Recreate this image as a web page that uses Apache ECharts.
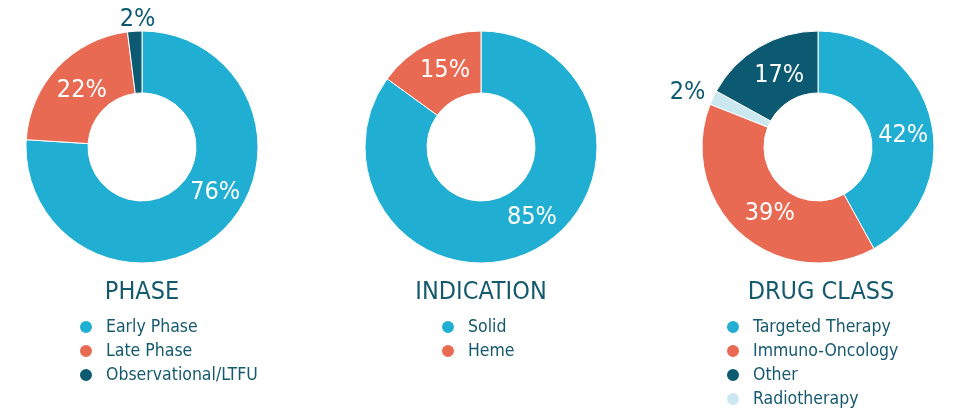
<!DOCTYPE html>
<html>
<head>
<meta charset="utf-8">
<script src="https://cdn.jsdelivr.net/npm/echarts@6/dist/echarts.min.js"></script>
<style>
  html, body { margin: 0; padding: 0; background: #fff; }
  #chart { width: 960px; height: 411px; }
</style>
</head>
<body>
<div id="chart"></div>
<script>
// 数据
const phaseNames = ["Early Phase", "Late Phase", "Observational/LTFU"];
const phaseValues = [76, 22, 2];
const indicationNames = ["Solid", "Heme"];
const indicationValues = [85, 15];
// 扇区顺序（顺时针）
const drugNames = ["Targeted Therapy", "Immuno-Oncology", "Radiotherapy", "Other"];
const drugValues = [42, 39, 2, 17];
// 图例顺序
const drugLegend = ["Targeted Therapy", "Immuno-Oncology", "Other", "Radiotherapy"];
const titles = ["PHASE", "INDICATION", "DRUG CLASS"];

const CYAN = "#21aed3";
const CORAL = "#e96a53";
const DARK = "#0b5a72";
const LIGHT = "#cbe7ef";
const TEXT = "#15596e";
const FONT = "DejaVu Sans Condensed, DejaVu Sans, sans-serif";

const centersX = [142, 481, 818];
const titleX = [142, 481, 821];

// 标签微调
const labelShift = [
  [[13, -19], [4, 4], [21, -8]],
  [[11, -8], [4, 2]],
  [[0, 10], [10, 0], [-4, -3], [6, 4]],
];

// 小扇区标签放在外面
function buildData(chartIndex, names, values, colors, outside) {
  return names.map((name, i) => {
    const item = {
      name: name,
      value: values[i],
      itemStyle: { color: colors[i] },
      label: { offset: labelShift[chartIndex][i] },
    };
    if (outside.indexOf(i) >= 0) {
      item.label.position = "outside";
      item.label.color = DARK;
      item.label.distanceToLabelLine = 0;
      item.labelLine = { show: false, length: 4, length2: 0 };
    }
    return item;
  });
}

function pieSeries(index, data) {
  return {
    type: "pie",
    center: [centersX[index], 147],
    radius: [54, 116],
    startAngle: 90,
    clockwise: true,
    avoidLabelOverlap: false,
    emphasis: { disabled: true },
    itemStyle: { borderColor: "#fff", borderWidth: 1 },
    label: {
      show: true,
      position: "inside",
      formatter: "{c}%",
      color: "#fff",
      fontFamily: FONT,
      fontSize: 25,
    },
    labelLine: { show: false },
    data: data,
  };
}

const chart = echarts.init(document.getElementById("chart"));

function legendOf(names, left) {
  return {
    data: names,
    orient: "vertical",
    left: left,
    top: 318,
    height: 120,
    padding: 0,
    icon: "circle",
    itemWidth: 14,
    itemHeight: 14,
    itemGap: 6,
    selectedMode: false,
    textStyle: {
      color: TEXT,
      fontFamily: FONT,
      fontSize: 17.5,
      lineHeight: 17,
      padding: [0, 0, 0, 8],
    },
  };
}

const option = {
  animation: false,
  title: titles.map((t, i) => ({
    text: t,
    left: titleX[i],
    top: 280,
    padding: 0,
    textAlign: "center",
    textStyle: {
      color: TEXT,
      fontFamily: FONT,
      fontSize: 25,
      fontWeight: "normal",
    },
  })),
  legend: [
    legendOf(phaseNames, 78),
    legendOf(indicationNames, 440),
    legendOf(drugLegend, 725),
  ],
  series: [
    pieSeries(0, buildData(0, phaseNames, phaseValues, [CYAN, CORAL, DARK], [2])),
    pieSeries(1, buildData(1, indicationNames, indicationValues, [CYAN, CORAL], [])),
    pieSeries(2, buildData(2, drugNames, drugValues, [CYAN, CORAL, LIGHT, DARK], [2])),
  ],
};

chart.setOption(option);
</script>
</body>
</html>
